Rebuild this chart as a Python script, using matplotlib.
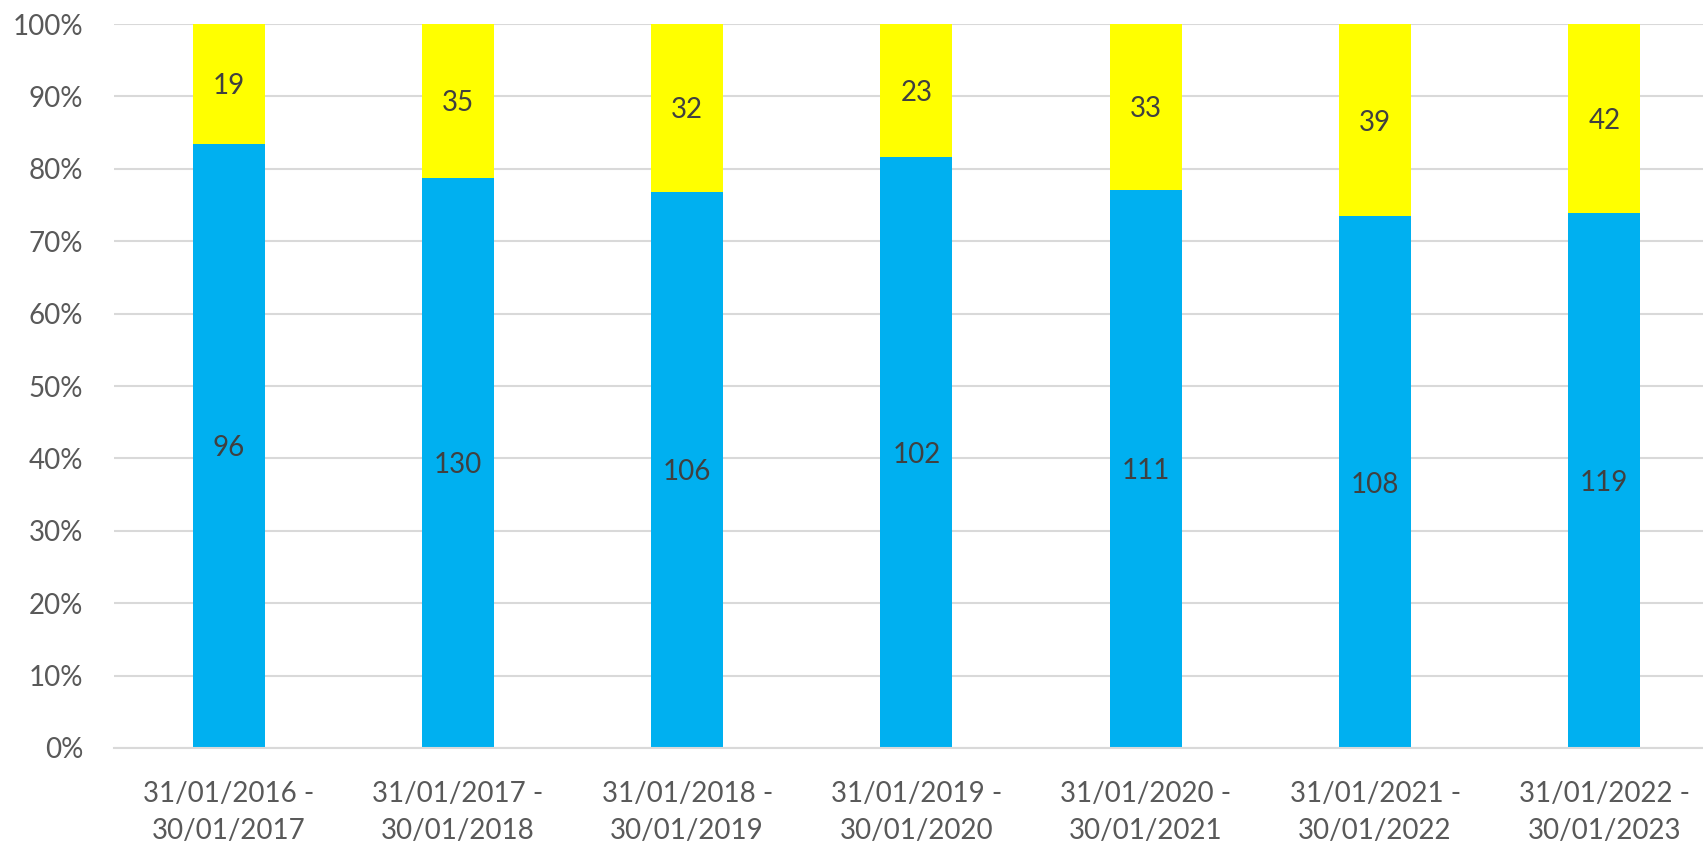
import numpy as np
import matplotlib.pyplot as plt
from matplotlib.ticker import PercentFormatter

# -------------------------
# DATA
# -------------------------
periods = [
    "31/01/2016 -\n30/01/2017",
    "31/01/2017 -\n30/01/2018",
    "31/01/2018 -\n30/01/2019",
    "31/01/2019 -\n30/01/2020",
    "31/01/2020 -\n30/01/2021",
    "31/01/2021 -\n30/01/2022",
    "31/01/2022 -\n30/01/2023",
]
blue_counts = [96, 130, 106, 102, 111, 108, 119]
yellow_counts = [19, 35, 32, 23, 33, 39, 42]

blue = np.array(blue_counts, dtype=float)
yellow = np.array(yellow_counts, dtype=float)
total = blue + yellow
blue_pct = blue / total * 100
yellow_pct = yellow / total * 100

plt.rcParams["font.family"] = ["Lato", "DejaVu Sans"]

# -------------------------
# CHART
# -------------------------
fig = plt.figure(figsize=(17.03, 8.43), dpi=100)
ax = fig.add_axes([0.0669, 0.1127, 0.9425, 0.8588])

x = np.arange(len(periods))
w = 0.314
ax.bar(x, blue_pct, w, color="#00B0F0", zorder=2)
ax.bar(x, yellow_pct, w, bottom=blue_pct, color="#FFFF00", zorder=2)

for i in range(len(x)):
    ax.text(x[i], blue_pct[i] / 2, str(blue_counts[i]), ha="center",
            va="center_baseline", fontsize=20, color="#404040", zorder=3)
    ax.text(x[i], blue_pct[i] + yellow_pct[i] / 2, str(yellow_counts[i]),
            ha="center", va="center_baseline", fontsize=20, color="#404040", zorder=3)

ax.set_xlim(-0.5, 6.5)
ax.set_ylim(0, 100)
ax.set_yticks(np.arange(0, 101, 10))
ax.yaxis.set_major_formatter(PercentFormatter(decimals=0))
ax.set_xticks(x)
ax.set_xticklabels(periods, linespacing=1.5)

ax.grid(axis="y", color="#D9D9D9", linewidth=1.5, zorder=0)
for s in ["top", "right", "left"]:
    ax.spines[s].set_visible(False)
ax.spines["bottom"].set_color("#D9D9D9")
ax.spines["bottom"].set_linewidth(1.5)

ax.tick_params(axis="y", length=0, pad=22, labelsize=20, labelcolor="#595959")
ax.tick_params(axis="x", length=0, pad=24, labelsize=20, labelcolor="#595959")

plt.savefig("out.png", dpi=100)
